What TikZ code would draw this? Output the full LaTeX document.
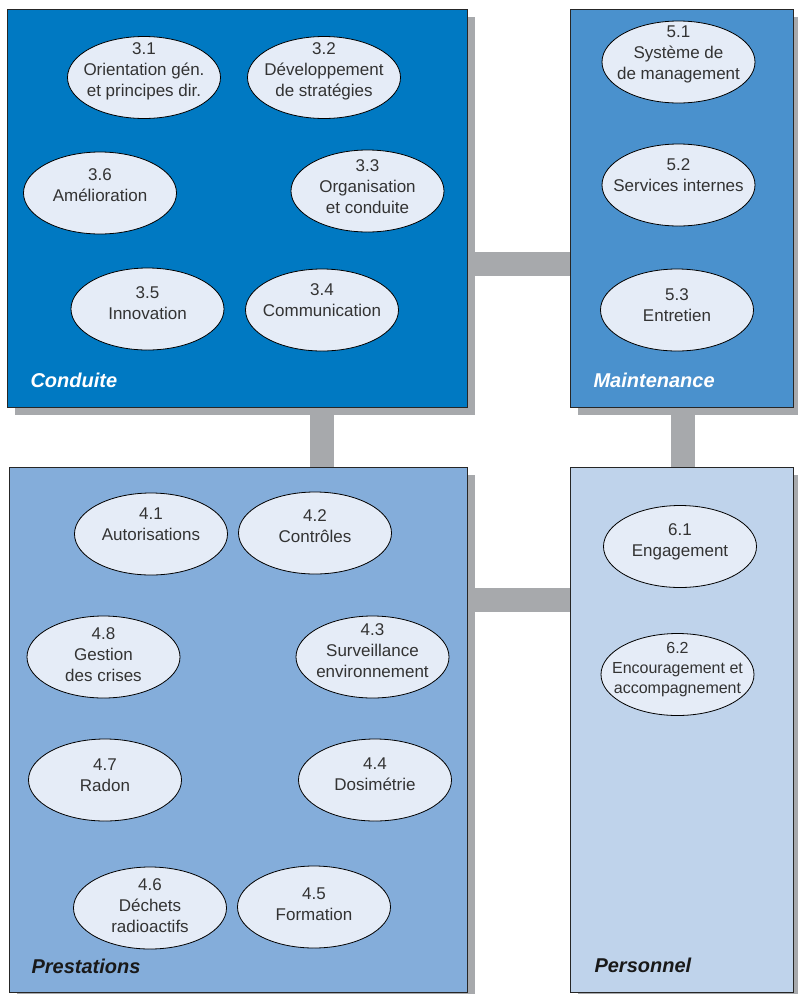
\documentclass[tikz,border=0pt]{standalone}
\usepackage{fontspec}
\setmainfont{Liberation Sans}
\usepackage{xcolor}
\usetikzlibrary{shapes.geometric,shadows,backgrounds}
\definecolor{bleuconduite}{HTML}{0079C2}
\definecolor{bleumaint}{HTML}{4A91CD}
\definecolor{bleupresta}{HTML}{84ADDA}
\definecolor{bleuperso}{HTML}{BFD3EB}
\definecolor{bleubulle}{HTML}{E5ECF7}
\definecolor{grisbarre}{HTML}{A7A9AC}
\definecolor{gristexte}{HTML}{333333}

\begin{document}
\begin{tikzpicture}[x=1pt,y=-1pt,
  bloc/.style={draw=black!85,line width=0.8pt,anchor=north west,
    drop shadow={shadow xshift=8pt,shadow yshift=-8pt,fill=grisbarre,opacity=1}},
  barre/.style={grisbarre,line width=24pt},
  bulle/.style={ellipse,draw=black,line width=0.8pt,fill=bleubulle,
    minimum width=153pt,minimum height=82pt,inner xsep=-25pt,inner ysep=-15pt,
    align=center,text=gristexte,font=\fontsize{17}{21}\selectfont,text depth=12pt},
  titre/.style={anchor=base west,font=\fontsize{20}{24}\selectfont\bfseries\itshape}]
\useasboundingbox (0,0) rectangle (798,994);

% les quatre blocs
\node[bloc,fill=bleuconduite,minimum width=460pt,minimum height=398pt] (conduite) at (7,9) {};
\node[bloc,fill=bleumaint,minimum width=223pt,minimum height=398pt] (maintenance) at (570,9) {};
\node[bloc,fill=bleupresta,minimum width=458pt,minimum height=525pt] (prestations) at (9,467) {};
\node[bloc,fill=bleuperso,minimum width=223pt,minimum height=525pt] (personnel) at (570,467) {};

% liaisons
\begin{scope}[on background layer]
\draw[barre] (conduite.east |- 0,264) -- (maintenance.west |- 0,264);
\draw[barre] (prestations.east |- 0,600) -- (personnel.west |- 0,600);
\draw[barre] (conduite.south -| 322,0) -- (prestations.north -| 322,0);
\draw[barre] (maintenance.south -| 683,0) -- (personnel.north -| 683,0);
\end{scope}

\node[titre,text=white] (tconduite) at (27,387) {Conduite};
\node[titre,text=white] (tmaintenance) at (590,387) {Maintenance};
\node[titre,text=black!90] (tprestations) at (28,973) {Prestations};
\node[titre,text=black!90] (tpersonnel) at (591,972) {Personnel};

% Conduite
\node[bulle,text depth=16pt] (b31) at (144,77.5) {3.1\\Orientation gén.\\et principes dir.};
\node[bulle,text depth=15pt] (b32) at (324,77.5) {3.2\\Développement\\de stratégies};
\node[bulle,text depth=16pt] (b36) at (100,193) {3.6\\Amélioration};
\node[bulle,text depth=8pt] (b33) at (367.5,191) {3.3\\Organisation\\et conduite};
\node[bulle] (b35) at (147.5,309) {3.5\\Innovation};
\node[bulle,text depth=19pt] (b34) at (322,310) {3.4\\Communication};

% Maintenance
\node[bulle,text depth=18pt] (b51) at (678.5,62) {5.1\\Système de\\de management};
\node[bulle,text depth=19pt] (b52) at (678.5,185) {5.2\\Services internes};
\node[bulle,text depth=9pt] (b53) at (677,310) {5.3\\Entretien};

% Prestations
\node[bulle,text depth=20pt] (b41) at (151,534) {4.1\\Autorisations};
\node[bulle,text depth=14pt] (b42) at (315,533) {4.2\\Contrôles};
\node[bulle,text depth=5pt] (b48) at (103.5,657) {4.8\\Gestion\\des crises};
\node[bulle] (b43) at (372.5,657) {4.3\\Surveillance\\environnement};
\node[bulle,text depth=9pt] (b47) at (105,780) {4.7\\Radon};
\node[bulle] (b44) at (375,780) {4.4\\Dosimétrie};
\node[bulle,text depth=4pt] (b46) at (150,908) {4.6\\Déchets\\radioactifs};
\node[bulle,text depth=6pt] (b45) at (314,907) {4.5\\Formation};

% Personnel
\node[bulle,text depth=13pt] (b61) at (680,546.5) {6.1\\Engagement};
\node[bulle,text depth=13pt,font=\fontsize{16}{20}\selectfont] (b62) at (677.5,674.5) {6.2\\Encouragement et\\accompagnement};
\end{tikzpicture}
\end{document}
